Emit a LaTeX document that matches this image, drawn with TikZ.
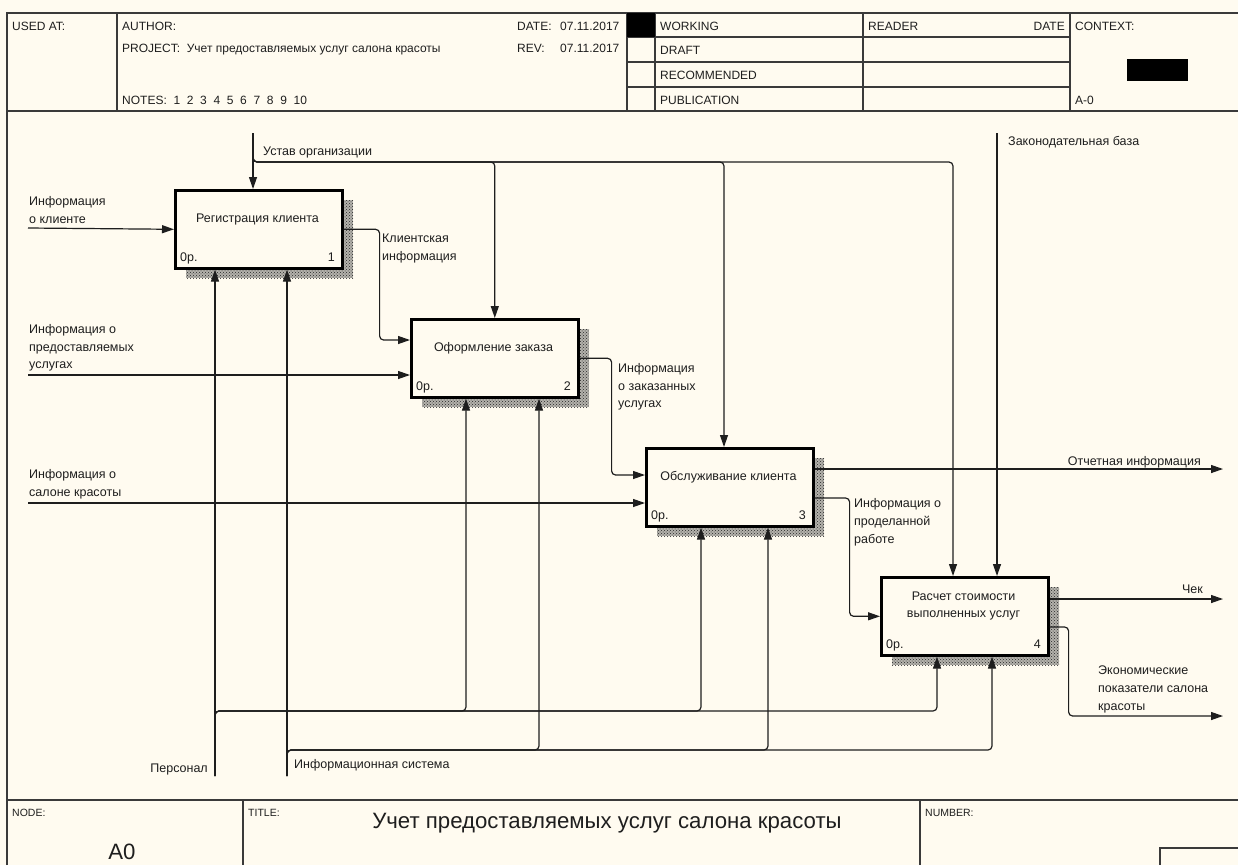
\documentclass[tikz,border=0pt]{standalone}
\usepackage{fontspec}
\setmainfont{Liberation Sans}
\usepackage{tikz}
\usetikzlibrary{arrows.meta,calc,patterns}
\definecolor{IdefPaper}{HTML}{FFFBF0}
\definecolor{IdefInk}{HTML}{1E1E1E}
\definecolor{IdefRule}{HTML}{3A3A3A}
\definecolor{IdefShade}{HTML}{B4B2AC}

\begin{document}
\begin{tikzpicture}[x=1pt,y=-1pt,
  every node/.style={inner sep=0pt,text=IdefInk,font=\fontsize{12.5}{17.7}\selectfont},
  rule/.style={draw=IdefRule,line width=1.3pt},
  hdr/.style={anchor=base west,font=\fontsize{12}{14}\selectfont},
  foot/.style={anchor=base west,font=\fontsize{10.5}{12}\selectfont},
  actbox/.style={draw=black,line width=2.6pt,fill=IdefPaper,minimum width=167pt,
    minimum height=78pt,anchor=north west},
  boxshade/.style={pattern=crosshatch dots,pattern color=black!85},
  flow/.style={draw=IdefInk,line width=1.2pt,rounded corners=4pt,
    -{Triangle[length=12pt,width=8pt]}},
  lbl/.style={anchor=north west,align=left}]
  \useasboundingbox (0,0) rectangle (1238,865);
  \fill[IdefPaper] (0,0) rectangle (1238,865);
  % frame and header
  \draw[rule] (7,865) -- (7,13) -- (1238,13);
  \draw[rule] (7,111) -- (1238,111);
  \foreach \x in {117,627,655,863,1070}{\draw[rule] (\x,13) -- (\x,111);}
  \foreach \y in {37,62,87}{\draw[rule] (627,\y) -- (1070,\y);}
  \fill[black] (627,13) rectangle (655,37);
  \fill[black] (1127,59) rectangle (1188,81);
  \node[hdr] (usedat) at (12,30) {USED AT:};
  \node[hdr] (author) at (122,30) {AUTHOR:};
  \node[hdr] (project) at (122,52) {PROJECT:\ \ Учет предоставляемых услуг салона красоты};
  \node[hdr] (notes) at (122,104) {NOTES:\ \ 1\ \ 2\ \ 3\ \ 4\ \ 5\ \ 6\ \ 7\ \ 8\ \ 9\ \ 10};
  \node[hdr] (datekey) at (517,30) {DATE:};
  \node[hdr] (dateval) at (560,30) {07.11.2017};
  \node[hdr] (revkey) at (517,52) {REV:};
  \node[hdr] (revval) at (560,52) {07.11.2017};
  \node[hdr] (working) at (660,30) {WORKING};
  \node[hdr] (draft) at (660,54) {DRAFT};
  \node[hdr] (recommended) at (660,79) {RECOMMENDED};
  \node[hdr] (publication) at (660,104) {PUBLICATION};
  \node[hdr] (reader) at (868,30) {READER};
  \node[hdr,anchor=base east] (readerdate) at (1065,30) {DATE};
  \node[hdr] (context) at (1075,30) {CONTEXT:};
  \node[hdr] (ctxnode) at (1075,104) {A-0};
  % footer
  \draw[rule] (7,800) -- (1238,800);
  \draw[rule] (243,800) -- (243,865);
  \draw[rule] (920,800) -- (920,865);
  \draw[rule] (1238,848) -- (1160,848) -- (1160,865);
  \node[foot] (nodekey) at (12,816) {NODE:};
  \node[foot] (titlekey) at (248,816) {TITLE:};
  \node[foot] (numberkey) at (925,816) {NUMBER:};
  \node[anchor=base,font=\fontsize{22.2}{24}\selectfont] (title) at (607,828)
    {Учет предоставляемых услуг салона красоты};
  \node[anchor=base,font=\fontsize{22.2}{24}\selectfont] (nodeval) at (122,859) {A0};
  % activity boxes
  \foreach \n/\bx/\by/\ty/\txt in {1/174/189/21/{Регистрация клиента},
      2/410/318/21/{Оформление заказа},3/645/447/21/{Обслуживание клиента},
      4/880/576/11.5/{Расчет стоимости\\выполненных услуг}}{
    \fill[IdefShade] (\bx+12,\by+11) rectangle ++(167,78);
    \fill[boxshade] (\bx+12,\by+11) rectangle ++(167,78);
    \node[actbox] (b\n) at (\bx,\by) {};
    \node[anchor=north,align=center] (t\n) at (\bx+83.5,\by+\ty) {\strut\txt};
    \node[anchor=base west] (c\n) at (\bx+6,\by+72) {0р.};
    \node[anchor=base east] (n\n) at (\bx+161,\by+72) {\n};
  }
  % inputs and outputs
  \coordinate (inA) at (28,228);
  \coordinate (inB) at (28,375);
  \coordinate (inC) at (28,503);
  \coordinate (outA) at (1223,469);
  \coordinate (outB) at (1223,599);
  \coordinate (outC) at (1223,716);
  \draw[flow] (inA) -- (b1.west);
  \draw[flow] (inB) -- (inB-|b2.west);
  \draw[flow] (inC) -- (inC-|b3.west);
  \draw[flow] (b1.east) -- ++(36,0) |- ($(b2.north west)+(0,22)$);
  \draw[flow] (b2.east) -- ++(32,0) |- ($(b3.north west)+(0,28)$);
  \draw[flow] ($(b3.north east)+(0,51)$) -- ++(35,0) |- (b4.west);
  \draw[flow] (outA-|b3.east) -- (outA);
  \draw[flow] (outB-|b4.east) -- (outB);
  \draw[flow] ($(b4.north east)+(0,51)$) -- ++(19,0) |- (outC);
  % controls
  \coordinate (ctlA) at (253,133);
  \coordinate (ctlAj) at (253,162);
  \coordinate (ctlB) at (997,133);
  \draw[flow] (ctlA) -- (ctlA|-b1.north);
  \draw[flow] (ctlA) -- (ctlAj) -| (b2.north);
  \draw[flow] (ctlA) -- (ctlAj) -| ($(b3.north west)+(79,0)$);
  \draw[flow] (ctlA) -- (ctlAj) -| ($(b4.north west)+(73,0)$);
  \draw[flow] (ctlB) -- (ctlB|-b4.north);
  % mechanisms
  \coordinate (mecA) at (215,776);
  \coordinate (mecAj) at (215,711);
  \coordinate (mecB) at (287,776);
  \coordinate (mecBj) at (287,750);
  \draw[flow] (mecA) -- (mecA|-b1.south);
  \draw[flow] (mecA) -- (mecAj) -| ($(b2.south west)+(56,0)$);
  \draw[flow] (mecA) -- (mecAj) -| ($(b3.south west)+(56,0)$);
  \draw[flow] (mecA) -- (mecAj) -| ($(b4.south west)+(57,0)$);
  \draw[flow] (mecB) -- (mecB|-b1.south);
  \draw[flow] (mecB) -- (mecBj) -| ($(b2.south west)+(129,0)$);
  \draw[flow] (mecB) -- (mecBj) -| ($(b3.south west)+(123,0)$);
  \draw[flow] (mecB) -- (mecBj) -| ($(b4.south west)+(112,0)$);
  % arrow labels
  \node[lbl] (lclient) at (29,193) {\strut Информация\\о клиенте};
  \node[lbl] (lservices) at (29,321) {\strut Информация о\\предоставляемых\\услугах};
  \node[lbl] (lsalon) at (29,466) {\strut Информация о\\салоне красоты};
  \node[lbl] (lclientinfo) at (382,230) {\strut Клиентская\\информация};
  \node[lbl] (lordered) at (618,360) {\strut Информация\\о заказанных\\услугах};
  \node[lbl] (ldone) at (854,495) {\strut Информация о\\проделанной\\работе};
  \node[lbl] (lecon) at (1098,662) {\strut Экономические\\показатели салона\\красоты};
  \node[anchor=base east] (lreport) at (1201,465) {Отчетная информация};
  \node[anchor=base east] (lcheck) at (1203,593) {Чек};
  \node[anchor=base west] (lcharter) at (263,155) {Устав организации};
  \node[anchor=base west] (llaw) at (1008,145) {Законодательная база};
  \node[anchor=base east] (lstaff) at (208,772) {Персонал};
  \node[anchor=base west] (lsystem) at (294,768) {Информационная система};
\end{tikzpicture}
\end{document}
